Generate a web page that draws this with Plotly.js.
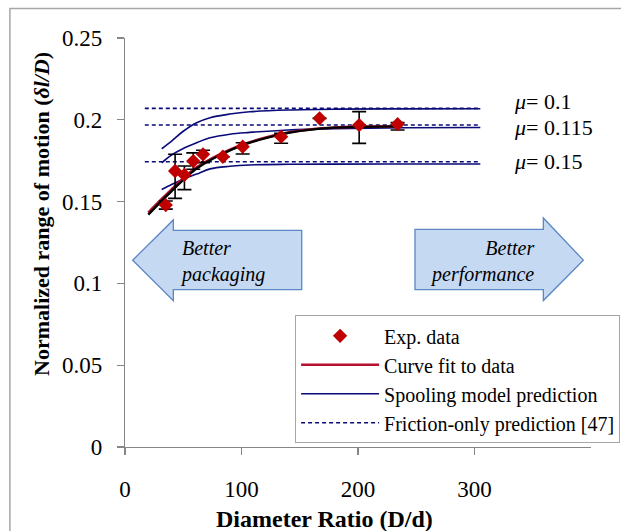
<!DOCTYPE html>
<html>
<head>
<meta charset="utf-8">
<script src="https://cdn.plot.ly/plotly-3.0.1.min.js"></script>
<style>html,body{margin:0;padding:0;background:#fff;}</style>
</head>
<body>
<div id="chart" style="width:621px;height:531px;"></div>
<script>
// Experimental data
const expX = [35, 43, 51, 58.6, 67, 84, 101, 134, 167, 201, 234];
const expY = [0.1479, 0.1687, 0.1663, 0.1748, 0.1789, 0.1774, 0.1836, 0.1897, 0.2009, 0.1968, 0.1973];
const errPlus = [0.0025, 0.0102, 0.0055, 0.005, 0.0025, 0, 0.0024, 0.002, 0, 0.0082, 0.001];
const errMinus = [0.0025, 0.0167, 0.0090, 0.005, 0.0051, 0, 0.0045, 0.004, 0, 0.0112, 0.0035];

// Curve fit to data (red) and overlaid black fit
const fitX = [20, 30, 40, 50, 60, 70, 80, 100, 120, 140, 160, 180, 200, 236];
const fitRedY = [0.1432, 0.1505, 0.1575, 0.1643, 0.1702, 0.1746, 0.1784, 0.1846, 0.1890, 0.1922, 0.1942, 0.1953, 0.1958, 0.1961];
const fitBlackY = [0.1420, 0.1494, 0.1564, 0.1633, 0.1694, 0.1740, 0.1779, 0.1842, 0.1887, 0.1920, 0.1940, 0.1952, 0.1957, 0.1960];

// Spooling model predictions (three friction coefficients)
const spoolX = [31.5, 40, 50, 61.5, 73, 90, 107, 140, 180, 240, 305];
const spoolTopY = [0.1823, 0.1870, 0.1930, 0.1982, 0.2013, 0.2035, 0.2049, 0.2060, 0.2065, 0.2067, 0.2068];
const spoolMidY = [0.1737, 0.1785, 0.1825, 0.1860, 0.1890, 0.1912, 0.1923, 0.1938, 0.1946, 0.1951, 0.1953];
const spoolLowY = [0.1574, 0.1605, 0.1637, 0.1668, 0.1700, 0.1716, 0.1724, 0.1728, 0.1729, 0.1730, 0.1730];

// Friction-only predictions
const fricX = [17, 305];
const fricLevels = [0.2070, 0.1968, 0.1744];

// Labels
const muLabels = ['<i>μ</i>= 0.1', '<i>μ</i>= 0.115', '<i>μ</i>= 0.15'];
const muY = [0.2110, 0.1953, 0.1748];
const xTickVals = [0, 100, 200, 300];
const yTickVals = [0, 0.05, 0.1, 0.15, 0.2, 0.25];
const yTickText = ['0', '0.05', '0.1', '0.15', '0.2', '0.25'];

const navy = '#0a0a78';
const serif = 'Liberation Serif';

const traces = [];
// friction-only dashed (single trace with gaps)
const fx = [], fy = [];
fricLevels.forEach((lv, i) => { fx.push(fricX[0], fricX[1]); fy.push(lv, lv); if (i < fricLevels.length - 1) { fx.push(null); fy.push(null); } });
traces.push({x: fx, y: fy, mode: 'lines', name: 'Friction-only prediction [47]',
  line: {color: navy, width: 1.6, dash: '4px,3px'}, legendgroup: 'g4', legendrank: 4, connectgaps: false});
// spooling
[spoolTopY, spoolMidY, spoolLowY].forEach((ys, i) => {
  traces.push({x: spoolX, y: ys, mode: 'lines', name: 'Spooling model prediction',
    line: {color: navy, width: 1.6, shape: 'spline'}, legendgroup: 'g3', legendrank: 3, showlegend: i === 0});
});
// fit red
traces.push({x: fitX, y: fitRedY, mode: 'lines', name: 'Curve fit to data',
  line: {color: '#b3112e', width: 2.6, shape: 'spline'}, legendgroup: 'g2', legendrank: 2});
// black overlay fit
traces.push({x: fitX, y: fitBlackY, mode: 'lines', name: 'fit',
  line: {color: '#000000', width: 2.4, shape: 'spline'}, showlegend: false, legendgroup: 'g2'});
// experimental
traces.push({x: expX, y: expY, mode: 'markers', name: 'Exp. data',
  marker: {symbol: 'diamond', size: 11, color: '#c00000'},
  error_y: {type: 'data', symmetric: false, array: errPlus, arrayminus: errMinus, color: '#000', thickness: 1.6, width: 7},
  legendgroup: 'g1', legendrank: 1});

// helper for arrow paths in data coords
function P(pts) { return 'M ' + pts.map(p => p[0] + ',' + p[1]).join(' L ') + ' Z'; }
const leftArrow = P([[6.6, 0.1142], [41.5, 0.1388], [41.5, 0.1324], [151.7, 0.1324], [151.7, 0.0962], [41.5, 0.0962], [41.5, 0.0894]]);
const rightArrow = P([[248.9, 0.1330], [359.1, 0.1330], [359.1, 0.1400], [393.4, 0.1142], [359.1, 0.0895], [359.1, 0.0962], [248.9, 0.0962]]);

const shapes = [
  {type: 'rect', xref: 'paper', yref: 'paper', x0: -0.247, x1: 1.3, y0: -0.4, y1: 1.072,
   line: {color: '#a6a6a6', width: 1.5}, fillcolor: 'rgba(0,0,0,0)', layer: 'below'},
  {type: 'path', xref: 'x', yref: 'y', path: leftArrow, fillcolor: '#c6d9f2', line: {color: '#5b87c5', width: 1.3}, layer: 'above'},
  {type: 'path', xref: 'x', yref: 'y', path: rightArrow, fillcolor: '#c6d9f2', line: {color: '#5b87c5', width: 1.3}, layer: 'above'}
];

const annotations = [];
muLabels.forEach((t, i) => annotations.push({x: 332, y: muY[i], xref: 'x', yref: 'y', text: t, showarrow: false,
  xanchor: 'left', yanchor: 'middle', font: {family: serif, size: 22, color: '#000'}}));
annotations.push({x: 45.5, y: 0.1131, xref: 'x', yref: 'y', text: '<i>Better<br>packaging</i>', align: 'left', showarrow: false,
  xanchor: 'left', yanchor: 'middle', font: {family: serif, size: 20, color: '#000'}});
annotations.push({x: 352.8, y: 0.1133, xref: 'x', yref: 'y', text: '<i>Better<br>performance</i>', align: 'right', showarrow: false,
  xanchor: 'right', yanchor: 'middle', font: {family: serif, size: 20, color: '#000'}});
// axis titles
annotations.push({x: 0.428, y: -0.176, xref: 'paper', yref: 'paper', text: '<b>Diameter Ratio (D/d)</b>', showarrow: false,
  xanchor: 'center', yanchor: 'middle', font: {family: serif, size: 24, color: '#000'}});
annotations.push({x: -0.178, y: 0.570, xref: 'paper', yref: 'paper', text: '<b>Normalized range of motion (<i>δl/D</i>)</b>', showarrow: false,
  textangle: -90, xanchor: 'center', yanchor: 'middle', font: {family: serif, size: 22, color: '#000'}});

const layout = {
  width: 621, height: 531,
  margin: {l: 125, r: 30, t: 38, b: 84, autoexpand: false},
  paper_bgcolor: '#fff', plot_bgcolor: '#fff',
  font: {family: serif, color: '#000'},
  xaxis: {range: [0, 400], tickvals: xTickVals, ticks: 'outside', ticklen: 7, tickwidth: 1.2, tickcolor: '#868686',
    showline: true, linecolor: '#868686', linewidth: 1.2, showgrid: false, zeroline: false, automargin: false,
    tickfont: {family: serif, size: 23, color: '#000'}, ticklabelstandoff: 14, fixedrange: true},
  yaxis: {range: [0, 0.25], tickvals: yTickVals, ticktext: yTickText, ticks: 'outside', ticklen: 7, tickwidth: 1.2, tickcolor: '#868686',
    showline: true, linecolor: '#868686', linewidth: 1.2, showgrid: false, zeroline: false, automargin: false,
    tickfont: {family: serif, size: 23, color: '#000'}, ticklabelstandoff: 10, fixedrange: true},
  showlegend: true,
  legend: {x: 0.365, y: 0.322, xanchor: 'left', yanchor: 'top', bgcolor: '#fff', bordercolor: '#a6a6a6', borderwidth: 1,
    font: {family: serif, size: 20, color: '#000'}, traceorder: 'grouped', tracegroupgap: 0, itemwidth: 78},
  shapes: shapes,
  annotations: annotations
};

Plotly.newPlot('chart', traces, layout, {displayModeBar: false, staticPlot: true});
</script>
</body>
</html>
